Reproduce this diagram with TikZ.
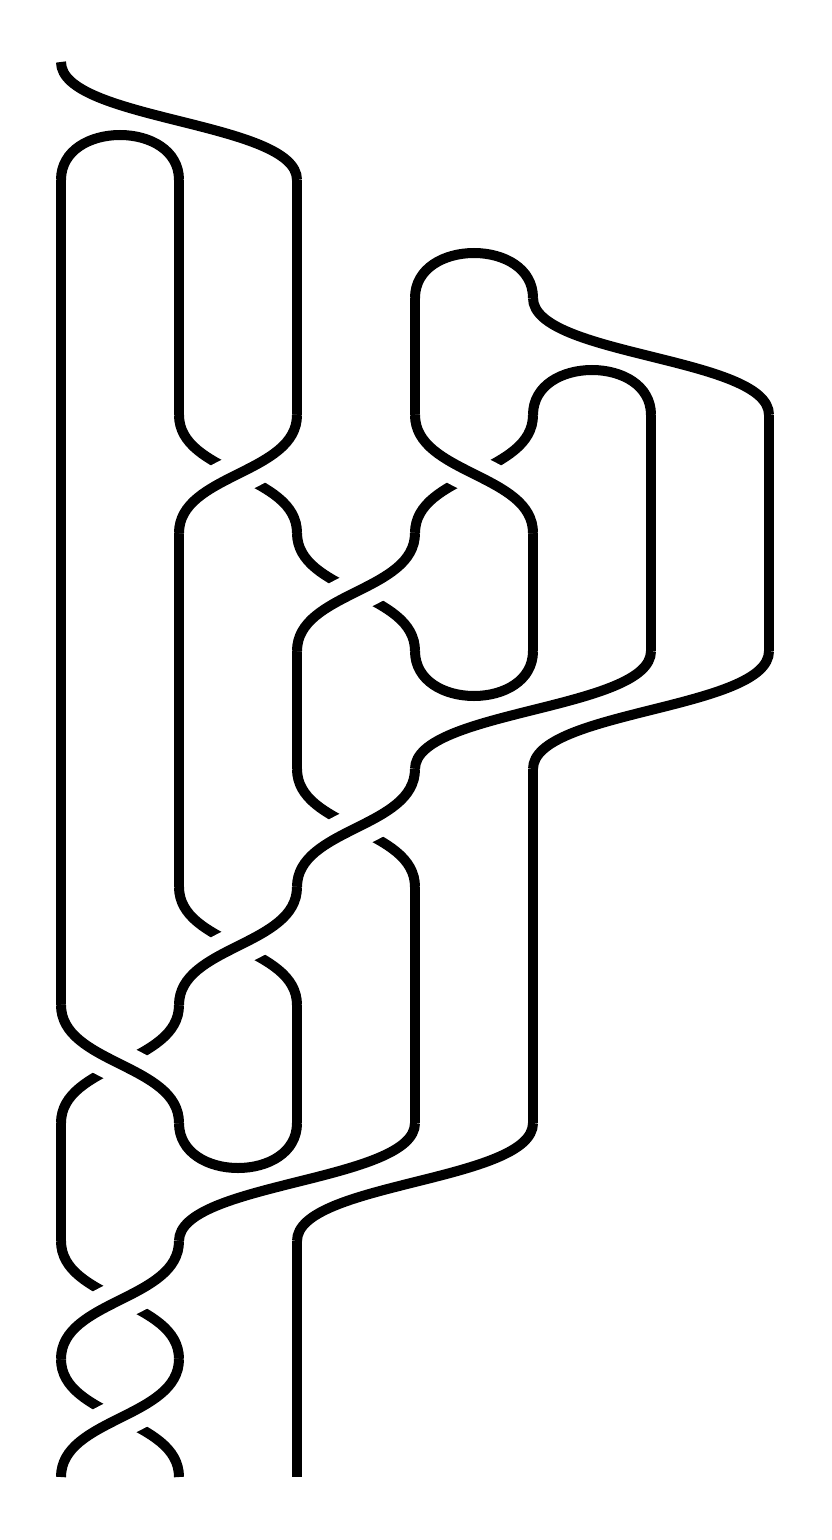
\documentclass[tikz,border=0pt]{standalone}
\begin{document}
\begin{tikzpicture}[x=0.5pt,y=-0.5pt,
  strand/.style={draw=black,line width=5pt},
  overstrand/.style={draw=black,line width=5pt,preaction={draw=white,line width=20pt}}]
\useasboundingbox (0,0) rectangle (831,1540);
% plain strands
\path[strand] (61,62) .. controls (61,121) and (297,121) .. (297,180);
\path[strand] (61,180) .. controls (61,120) and (179,120) .. (179,180);
\path[strand] (61,180) -- (61,1005);
\path[strand] (179,180) -- (179,415);
\path[strand] (297,180) -- (297,415);
\path[strand] (415,298) .. controls (415,238) and (533,238) .. (533,298);
\path[strand] (415,298) -- (415,415);
\path[strand] (533,298) .. controls (533,356.5) and (769,356.5) .. (769,415);
\path[strand] (533,415) .. controls (533,355) and (651,355) .. (651,415);
\path[strand] (651,415) -- (651,651);
\path[strand] (769,415) -- (769,651);
% row 3-4
\path[strand] (179,415) .. controls (179,474) and (297,474) .. (297,533);
\path[strand] (533,415) .. controls (533,474) and (415,474) .. (415,533);
% row 4-5
\path[strand] (179,533) -- (179,887);
\path[strand] (533,533) -- (533,651);
\path[strand] (297,533) .. controls (297,592) and (415,592) .. (415,651);
\path[strand] (415,651) .. controls (415,711) and (533,711) .. (533,651);
% row 5-6
\path[strand] (297,651) -- (297,769);
\path[strand] (651,651) .. controls (651,710) and (415,710) .. (415,769);
\path[strand] (769,651) .. controls (769,710) and (533,710) .. (533,769);
% row 6-7
\path[strand] (297,769) .. controls (297,828) and (415,828) .. (415,887);
\path[strand] (533,769) -- (533,1123);
% row 7-8
\path[strand] (179,887) .. controls (179,946) and (297,946) .. (297,1005);
\path[strand] (415,887) -- (415,1123);
% row 8-9
\path[strand] (179,1005) .. controls (179,1064) and (61,1064) .. (61,1123);
\path[strand] (297,1005) -- (297,1123);
\path[strand] (179,1123) .. controls (179,1183) and (297,1183) .. (297,1123);
% row 9-10
\path[strand] (61,1123) -- (61,1241);
\path[strand] (415,1123) .. controls (415,1182) and (179,1182) .. (179,1241);
\path[strand] (533,1123) .. controls (533,1182) and (297,1182) .. (297,1241);
% row 10-12
\path[strand] (297,1241) -- (297,1477);
\path[strand] (61,1241) .. controls (61,1300) and (179,1300) .. (179,1359);
\path[strand] (61,1359) .. controls (61,1418) and (179,1418) .. (179,1477);
% over strands
\path[overstrand] (297,415) .. controls (297,474) and (179,474) .. (179,533);
\path[overstrand] (415,415) .. controls (415,474) and (533,474) .. (533,533);
\path[overstrand] (415,533) .. controls (415,592) and (297,592) .. (297,651);
\path[overstrand] (415,769) .. controls (415,828) and (297,828) .. (297,887);
\path[overstrand] (297,887) .. controls (297,946) and (179,946) .. (179,1005);
\path[overstrand] (61,1005) .. controls (61,1064) and (179,1064) .. (179,1123);
\path[overstrand] (179,1241) .. controls (179,1300) and (61,1300) .. (61,1359);
\path[overstrand] (179,1359) .. controls (179,1418) and (61,1418) .. (61,1477);
\end{tikzpicture}
\end{document}
